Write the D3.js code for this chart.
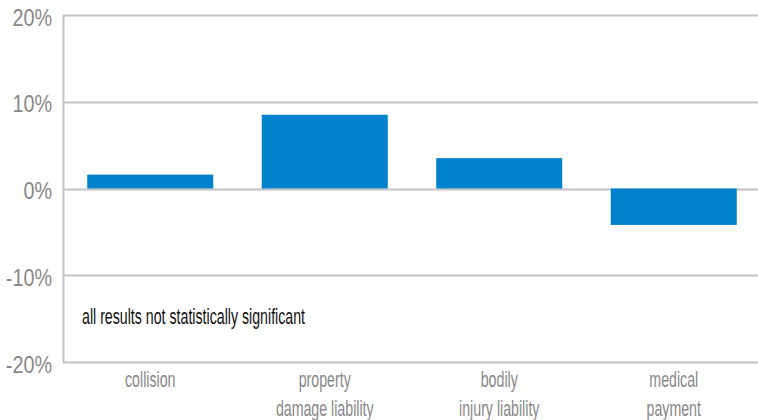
<!DOCTYPE html>
<html>
<head>
<meta charset="utf-8">
<script src="https://cdn.jsdelivr.net/npm/d3@7"></script>
<style>
  body { margin: 0; background: #fff; }
  svg text { font-family: "Liberation Sans", Arial, sans-serif; }
</style>
</head>
<body>
<div id="chart"></div>
<script>
var w = 758,
    h = 420,
    m = [15, 0, 58, 63]; // top right bottom left

var categories = [["collision"], ["property", "damage liability"], ["bodily", "injury liability"], ["medical", "payment"]];
var values = [1.6, 8.5, 3.5, -4.2];
var ticks = [-20, -10, 0, 10, 20];
var note = "all results not statistically significant";

var keys = categories.map(function(d) { return d.join(" "); });

// no condensed face installed, so squeeze the text horizontally
var narrow = 0.645,
    tickNarrow = 0.86;

var x = d3.scaleBand()
    .domain(keys)
    .range([m[3], 761])
    .paddingInner(0.278)
    .paddingOuter(0.139);

var y = d3.scaleLinear()
    .domain([-20, 20])
    .range([h - m[2], m[0]]);

var svg = d3.select("#chart").append("svg")
    .attr("width", w)
    .attr("height", h);

// grid
svg.append("g").selectAll("line")
    .data(ticks)
  .enter().append("line")
    .attr("x1", m[3])
    .attr("x2", w)
    .attr("y1", function(d) { return Math.round(y(d)) + 0.5; })
    .attr("y2", function(d) { return Math.round(y(d)) + 0.5; })
    .attr("stroke", "#c3c3c7")
    .attr("stroke-width", 2);

svg.append("line")
    .attr("x1", m[3] + 0.5)
    .attr("x2", m[3] + 0.5)
    .attr("y1", y(20))
    .attr("y2", y(-20) + 1)
    .attr("stroke", "#c3c3c7")
    .attr("stroke-width", 2);

// bars
svg.append("g").selectAll("rect")
    .data(values)
  .enter().append("rect")
    .attr("x", function(d, i) { return x(keys[i]); })
    .attr("width", x.bandwidth())
    .attr("y", function(d) { return y(Math.max(0, d)); })
    .attr("height", function(d) { return Math.abs(y(d) - y(0)); })
    .attr("fill", "#0082cc");

// y labels
svg.append("g").selectAll("text")
    .data(ticks)
  .enter().append("text")
    .attr("transform", function(d) { return "translate(52," + (y(d) + 10.5) + ") scale(" + tickNarrow + ",1)"; })
    .attr("text-anchor", "end")
    .attr("fill", "#888")
    .style("font-size", "23px")
    .text(function(d) { return d + "%"; });

// category labels
var cat = svg.append("g").selectAll("text")
    .data(categories)
  .enter().append("text")
    .attr("text-anchor", "middle")
    .attr("fill", "#888")
    .style("font-size", "22px")
    .attr("transform", function(d, i) { return "translate(" + (x(keys[i]) + x.bandwidth() / 2) + ",387) scale(" + narrow + ",1)"; });

cat.selectAll("tspan")
    .data(function(d) { return d; })
  .enter().append("tspan")
    .attr("x", 0)
    .attr("y", function(d, j) { return j * 29; })
    .text(function(d) { return d; });

svg.append("text")
    .attr("transform", "translate(82,324) scale(" + narrow + ",1)")
    .attr("fill", "#111")
    .style("font-size", "22px")
    .text(note);
</script>
</body>
</html>
